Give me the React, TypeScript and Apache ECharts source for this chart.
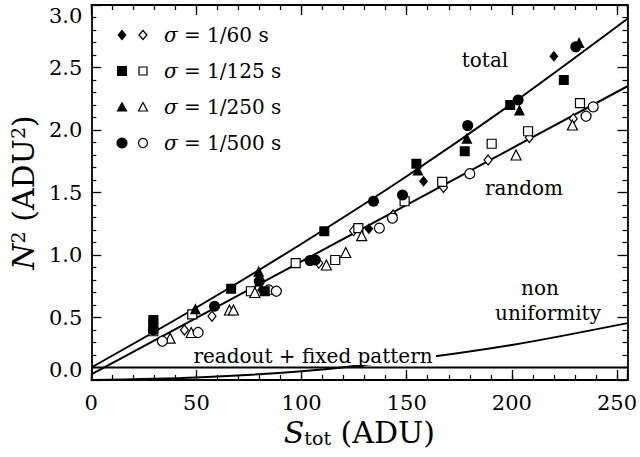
import React, { useEffect, useRef } from "react";
import * as echarts from "echarts";

// ---- data ----
const xTicks = [0, 50, 100, 150, 200, 250];
const yTicks = [0.0, 0.5, 1.0, 1.5, 2.0, 2.5, 3.0];
const legendLabels = ["1/60", "1/125", "1/250", "1/500"];

// filled symbols: total noise
const total60: number[][] = [[29.5, 0.42], [81, 0.72], [132, 1.21], [158, 1.59], [220, 2.59]];
const total125: number[][] = [[29.5, 0.48], [29.5, 0.45], [66.5, 0.73], [82.5, 0.71], [110.8, 1.19], [154.6, 1.73], [177.6, 1.83], [199.2, 2.2], [224.7, 2.4]];
const total250: number[][] = [[49.5, 0.57], [79.6, 0.87], [155.3, 1.68], [178.6, 1.935], [203.6, 2.16], [232, 2.7]];
const total500: number[][] = [[29.5, 0.4], [58.6, 0.59], [79.9, 0.79], [104, 0.955], [106.5, 0.96], [134.2, 1.43], [148, 1.48], [179, 2.035], [203, 2.24], [230.4, 2.665]];

// open symbols: random noise
const random60: number[][] = [[44.3, 0.4], [57.4, 0.51], [108.2, 0.935], [124.7, 1.195], [143.5, 1.32], [167.5, 1.54], [188.7, 1.76], [208.3, 1.94], [229.2, 2.09]];
const random125: number[][] = [[29.5, 0.39], [48, 0.525], [75.9, 0.71], [97.2, 0.935], [116, 0.96], [127, 1.215], [149, 1.43], [166.9, 1.585], [190.4, 1.89], [207.7, 1.99], [232.4, 2.215]];
const random250: number[][] = [[37.5, 0.335], [47.5, 0.38], [65.7, 0.56], [67.6, 0.56], [77.8, 0.7], [111.8, 0.92], [121, 1.02], [128.6, 1.155], [202, 1.8], [228.8, 2.04]];
const random500: number[][] = [[33.8, 0.31], [50.8, 0.38], [84.4, 0.72], [88, 0.71], [137, 1.215], [143.2, 1.295], [180, 1.65], [235.3, 2.11], [238.7, 2.185]];

// model curves
const totalCurve: number[][] = [[0, 0.1], [50, 0.58], [100, 1.09], [150, 1.63], [200, 2.21], [255, 2.89]];
const randomCurve: number[][] = [[0, 0.045], [255, 2.35]];
const nonUniformCurve: number[][] = [[0, 0], [50, 0.02], [100, 0.07], [150, 0.16], [200, 0.28], [255, 0.455]];
const readoutCurve: number[][] = [[0, 0.1], [255, 0.1]];

const FONT = "DejaVu Serif";

export default function App() {
  const ref = useRef<HTMLDivElement>(null);

  useEffect(() => {
    if (!ref.current) return;
    const chart = echarts.init(ref.current, undefined, { renderer: "svg" });

    const axisLine = { show: true, onZero: false, lineStyle: { color: "#000", width: 1.8 } };
    const baseX = {
      type: "value" as const,
      min: 0,
      max: 255,
      splitLine: { show: false },
      gridIndex: 0,
    };
    const xAxes = [
      {
        ...baseX,
        position: "bottom",
        interval: 50,
        axisLine,
        axisTick: { show: true, inside: true, length: 10, lineStyle: { color: "#000", width: 1.3 } },
        axisLabel: {
          show: true,
          margin: 12,
          color: "#000",
          fontSize: 21,
          fontFamily: FONT,
          formatter: (v: number) => (xTicks.indexOf(v) >= 0 ? String(v) : ""),
        },
        name: "{i|S}{sub|tot} (ADU)",
        nameLocation: "middle",
        nameGap: 31,
        nameTextStyle: {
          color: "#000",
          fontSize: 30,
          fontFamily: FONT,
          rich: {
            i: { fontStyle: "italic", fontSize: 30, fontFamily: FONT, color: "#000" },
            sub: { fontSize: 19, fontFamily: FONT, color: "#000", verticalAlign: "bottom", lineHeight: 16 },
          },
        },
      },
      {
        ...baseX,
        position: "bottom",
        interval: 10,
        axisLine: { show: false, onZero: false },
        axisTick: { show: true, inside: true, length: 5, lineStyle: { color: "#000", width: 1.2 } },
        axisLabel: { show: false },
      },
      {
        ...baseX,
        position: "top",
        interval: 50,
        axisLine,
        axisTick: { show: true, inside: true, length: 10, lineStyle: { color: "#000", width: 1.3 } },
        axisLabel: { show: false },
      },
      {
        ...baseX,
        position: "top",
        interval: 10,
        axisLine: { show: false, onZero: false },
        axisTick: { show: true, inside: true, length: 5, lineStyle: { color: "#000", width: 1.2 } },
        axisLabel: { show: false },
      },
    ];

    const baseY = {
      type: "value" as const,
      min: 0,
      max: 3,
      interval: 0.5,
      splitLine: { show: false },
      axisLine,
      axisTick: { show: true, inside: true, length: 10, lineStyle: { color: "#000", width: 1.3 } },
      minorTick: { show: true, splitNumber: 5, length: 5, lineStyle: { color: "#000", width: 1.2 } },
    };
    const yAxes = [
      {
        ...baseY,
        position: "left",
        axisLabel: {
          show: true,
          margin: 9,
          color: "#000",
          fontSize: 21,
          fontFamily: FONT,
          verticalAlignMinLabel: "bottom",
          verticalAlignMaxLabel: "top",
          formatter: (v: number) => {
            const t = yTicks.find((k) => Math.abs(k - v) < 1e-6);
            return t === undefined ? "" : t.toFixed(1);
          },
        },
        name: "{i|N}{sup|2} (ADU{sup|2})",
        nameLocation: "middle",
        nameGap: 47,
        nameTextStyle: {
          color: "#000",
          fontSize: 30,
          fontFamily: FONT,
          rich: {
            i: { fontStyle: "italic", fontSize: 30, fontFamily: FONT, color: "#000" },
            sup: { fontSize: 19, fontFamily: FONT, color: "#000", verticalAlign: "top" },
          },
        },
      },
      { ...baseY, position: "right", axisLabel: { show: false } },
    ];

    const filled = { color: "#000", opacity: 1 };
    const open = { color: "#fff", borderColor: "#000", borderWidth: 1.2, opacity: 1 };
    const scatter = (data: number[][], symbol: string, style: any, size: any) => ({
      type: "scatter",
      data,
      symbol,
      symbolSize: size,
      itemStyle: style,
      z: 5,
      silent: true,
    });
    const line = (data: number[][], smooth: boolean, z: number) => ({
      type: "line",
      data,
      smooth: smooth ? 0.3 : false,
      symbol: "none",
      lineStyle: { color: "#000", width: 2 },
      z,
      silent: true,
    });

    const series = [
      line(nonUniformCurve, true, 1),
      line(readoutCurve, false, 3),
      line(totalCurve, true, 3),
      line(randomCurve, false, 3),
      scatter(random60, "diamond", open, [8, 10]),
      scatter(random125, "rect", open, 9),
      scatter(random250, "triangle", open, 10),
      scatter(random500, "circle", open, 10),
      scatter(total60, "diamond", filled, [9, 11]),
      scatter(total125, "rect", filled, 10),
      scatter(total250, "triangle", filled, 11),
      scatter(total500, "circle", filled, 11),
    ];

    // legend drawn with graphic elements
    const rowsY = [35, 71, 107, 143];
    const fx = 122;
    const ox = 143;
    const legendEls: any[] = [];
    rowsY.forEach((y, i) => {
      const fStyle = { fill: "#000" };
      const oStyle = { fill: "#fff", stroke: "#000", lineWidth: 1.2 };
      if (i === 0) {
        legendEls.push({ type: "polygon", z: 10, shape: { points: [[fx, y - 5.5], [fx + 4.5, y], [fx, y + 5.5], [fx - 4.5, y]] }, style: fStyle });
        legendEls.push({ type: "polygon", z: 10, shape: { points: [[ox, y - 4.5], [ox + 4, y], [ox, y + 4.5], [ox - 4, y]] }, style: oStyle });
      } else if (i === 1) {
        legendEls.push({ type: "rect", z: 10, shape: { x: fx - 5, y: y - 5, width: 10, height: 10 }, style: fStyle });
        legendEls.push({ type: "rect", z: 10, shape: { x: ox - 4, y: y - 4, width: 8, height: 8 }, style: oStyle });
      } else if (i === 2) {
        legendEls.push({ type: "polygon", z: 10, shape: { points: [[fx, y - 5.5], [fx + 5.5, y + 4.5], [fx - 5.5, y + 4.5]] }, style: fStyle });
        legendEls.push({ type: "polygon", z: 10, shape: { points: [[ox, y - 4.5], [ox + 4.5, y + 4], [ox - 4.5, y + 4]] }, style: oStyle });
      } else {
        legendEls.push({ type: "circle", z: 10, shape: { cx: fx, cy: y, r: 5.5 }, style: fStyle });
        legendEls.push({ type: "circle", z: 10, shape: { cx: ox, cy: y, r: 4.5 }, style: oStyle });
      }
      legendEls.push({
        type: "text",
        z: 10,
        x: 164,
        y,
        style: {
          text: "{i|σ} = " + legendLabels[i] + " s",
          fill: "#000",
          fontSize: 20,
          fontFamily: FONT,
          textAlign: "left",
          textVerticalAlign: "middle",
          verticalAlign: "middle",
          rich: { i: { fontStyle: "italic", fontSize: 20, fontFamily: FONT, fill: "#000" } },
        },
      });
    });

    const txt = (text: string, x: number, y: number) => ({
      type: "text",
      z: 10,
      x,
      y,
      style: {
        text,
        fill: "#000",
        fontSize: 20,
        fontFamily: FONT,
        textAlign: "center",
        textVerticalAlign: "middle",
        verticalAlign: "middle",
      },
    });

    chart.setOption({
      animation: false,
      backgroundColor: "#fff",
      textStyle: { fontFamily: FONT },
      grid: { left: 90, right: 12, top: 5, bottom: 77, containLabel: false },
      xAxis: xAxes,
      yAxis: yAxes,
      series,
      graphic: [
        ...legendEls,
        txt("total", 485, 60),
        txt("random", 524, 188),
        txt("non", 540, 288),
        txt("uniformity", 548, 313),
        { type: "rect", z: 2, shape: { x: 190, y: 346, width: 246, height: 19 }, style: { fill: "#fff" } },
        txt("readout + fixed pattern", 313, 356),
      ],
    });

    return () => chart.dispose();
  }, []);

  return <div ref={ref} style={{ position: "fixed", left: 0, top: 0, width: 640, height: 457 }} />;
}
